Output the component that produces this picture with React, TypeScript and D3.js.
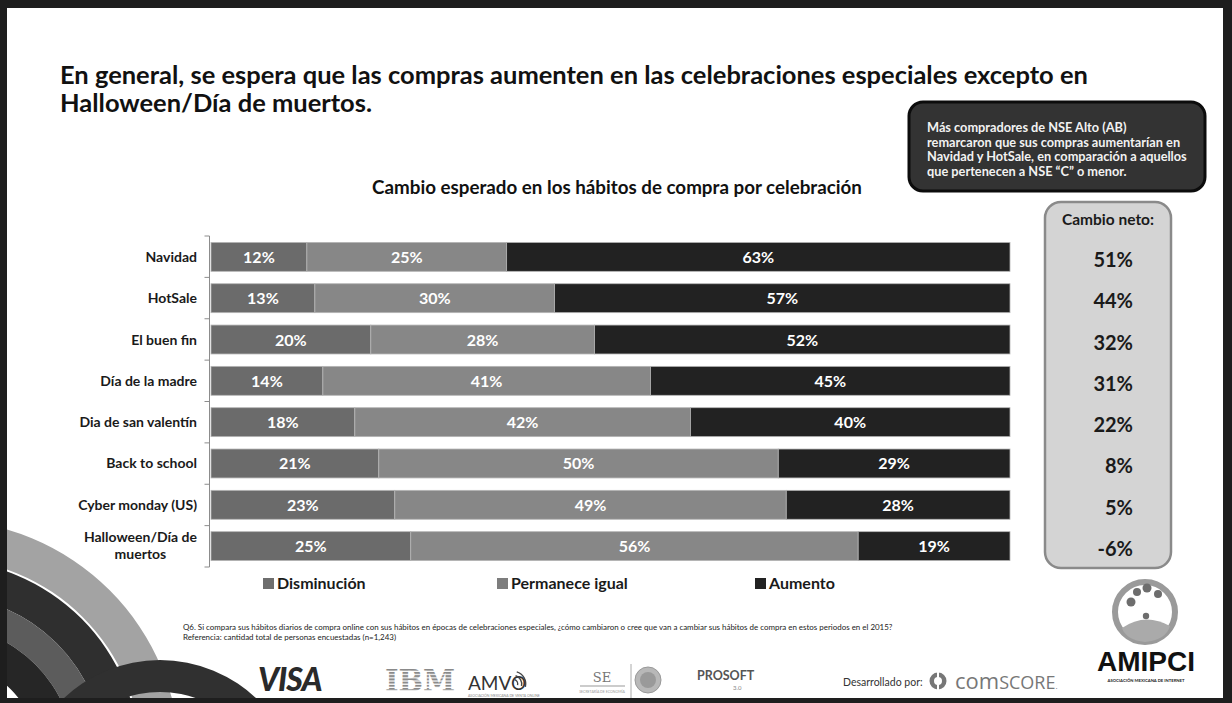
import React, { useEffect, useRef } from "react";
import * as d3 from "d3";

const categories = [
  "Navidad",
  "HotSale",
  "El buen fin",
  "Día de la madre",
  "Dia de san valentín",
  "Back to school",
  "Cyber monday (US)",
  "Halloween/Día de muertos",
];
const disminucion = [12, 13, 20, 14, 18, 21, 23, 25];
const permanece = [25, 30, 28, 41, 42, 50, 49, 56];
const aumento = [63, 57, 52, 45, 40, 29, 28, 19];
const cambioNeto = [51, 44, 32, 31, 22, 8, 5, -6];
const seriesNames = ["Disminución", "Permanece igual", "Aumento"];
const seriesColors = ["#6b6b6b", "#878787", "#222222"];
const legendColors = ["#6e6e6e", "#7d7d7d", "#222222"];

const titleLines = [
  "En general, se espera que las compras aumenten en las celebraciones especiales excepto en",
  "Halloween/Día de muertos.",
];
const chartTitle = "Cambio esperado en los hábitos de compra por celebración";
const calloutLines = [
  "Más compradores  de NSE Alto (AB)",
  "remarcaron que sus compras aumentarían en",
  "Navidad y HotSale, en comparación a aquellos",
  "que pertenecen a NSE “C” o menor.",
];
const netTitle = "Cambio neto:";
const footnoteLines = [
  "Q6. Si compara sus hábitos diarios de compra online con sus hábitos en épocas de celebraciones especiales, ¿cómo cambiaron o cree que van a cambiar sus hábitos de compra en estos periodos en el 2015?",
  "Referencia: cantidad total de personas encuestadas (n=1,243)",
];

const FONT = "Lato, 'Open Sans', 'DejaVu Sans', sans-serif";

export default function App() {
  const ref = useRef<SVGSVGElement>(null);

  useEffect(() => {
    document.body.style.margin = "0";
    document.body.style.overflow = "hidden";
    const W = 1232;
    const H = 703;
    const svg = d3.select(ref.current);
    svg.selectAll("*").remove();
    const defs = svg.append("defs");

    const fit = (sel: any, target: number) => {
      const node = sel.node() as SVGTextElement;
      const w = node.getComputedTextLength();
      const fs = parseFloat(sel.attr("font-size"));
      const nfs = w > 0 ? (fs * target) / w : fs;
      sel.attr("font-size", nfs);
      return nfs;
    };

    // frame
    svg.append("rect").attr("width", W).attr("height", H).attr("fill", "#1e1e1e");
    svg
      .append("rect")
      .attr("x", 7)
      .attr("y", 8)
      .attr("width", 1216)
      .attr("height", 690)
      .attr("fill", "#ffffff");
    defs
      .append("clipPath")
      .attr("id", "frameClip")
      .append("rect")
      .attr("x", 7)
      .attr("y", 8)
      .attr("width", 1216)
      .attr("height", 690);

    // decorative ribbons bottom-left
    const deco = svg.append("g").attr("clip-path", "url(#frameClip)");
    const ring = (cx: number, cy: number, r0: number, r1: number, fill: string) =>
      deco
        .append("path")
        .attr("transform", `translate(${cx},${cy})`)
        .attr(
          "d",
          d3.arc()({ innerRadius: r0, outerRadius: r1, startAngle: 0, endAngle: 2 * Math.PI } as any) as string
        )
        .attr("fill", fill);
    ring(-60, 760, 202, 240, "#a3a3a3");
    ring(-60, 760, 165, 200, "#2f2f2f");
    ring(-60, 760, 135, 165, "#5c5c5c");
    ring(-60, 760, 100, 135, "#262626");
    ring(160, 800, 108, 140, "#303030");

    // title
    const title = svg
      .append("text")
      .attr("font-family", FONT)
      .attr("font-weight", 700)
      .attr("fill", "#111");
    const t1 = title
      .append("tspan")
      .attr("x", 60)
      .attr("y", 84)
      .attr("font-size", 24)
      .text(titleLines[0]);
    const fsTitle = fit(t1, 1028);
    title
      .append("tspan")
      .attr("x", 60)
      .attr("y", 112)
      .attr("font-size", fsTitle)
      .text(titleLines[1]);

    // callout box
    svg
      .append("rect")
      .attr("x", 909)
      .attr("y", 102)
      .attr("width", 296)
      .attr("height", 89)
      .attr("rx", 14)
      .attr("fill", "#333333")
      .attr("stroke", "#0c0c0c")
      .attr("stroke-width", 3);
    const calloutTexts = calloutLines.map((l, i) =>
      svg
        .append("text")
        .attr("x", 927)
        .attr("y", 132 + i * 14.5)
        .attr("font-family", FONT)
        .attr("font-weight", 700)
        .attr("font-size", 11)
        .attr("fill", "#f2f2f2")
        .text(l)
    );
    const fsCallout = fit(calloutTexts[2], 260);
    calloutTexts.forEach((t) => t.attr("font-size", fsCallout));

    // chart title
    const st = svg
      .append("text")
      .attr("x", 617)
      .attr("y", 194)
      .attr("text-anchor", "middle")
      .attr("font-family", FONT)
      .attr("font-weight", 700)
      .attr("font-size", 16)
      .attr("fill", "#111")
      .text(chartTitle);
    fit(st, 490);

    // scales
    const x = d3.scaleLinear().domain([0, 100]).range([211, 1010]);
    const y = d3
      .scaleBand<string>()
      .domain(categories)
      .range([236, 567])
      .paddingInner(0.3)
      .paddingOuter(0.155);
    const bw = y.bandwidth();

    // category axis line + ticks
    const axisX = 209.5;
    svg
      .append("line")
      .attr("x1", axisX)
      .attr("x2", axisX)
      .attr("y1", 236)
      .attr("y2", 567)
      .attr("stroke", "#8c8c8c")
      .attr("stroke-width", 1);
    const step = (567 - 236) / categories.length;
    d3.range(categories.length + 1).forEach((i) => {
      svg
        .append("line")
        .attr("x1", axisX - 5)
        .attr("x2", axisX)
        .attr("y1", 236 + i * step)
        .attr("y2", 236 + i * step)
        .attr("stroke", "#8c8c8c");
    });

    // stacked bars
    const rows = categories.map((c, i) => ({
      c,
      vals: [disminucion[i], permanece[i], aumento[i]],
    }));
    const gBars = svg.append("g");
    rows.forEach((r) => {
      let acc = 0;
      r.vals.forEach((v, k) => {
        const x0 = x(acc);
        const x1 = x(acc + v);
        gBars
          .append("rect")
          .attr("x", x0)
          .attr("y", y(r.c)!)
          .attr("width", x1 - x0)
          .attr("height", bw)
          .attr("fill", seriesColors[k])
          .attr("stroke", "#b5b5b5")
          .attr("stroke-width", 0.8);
        gBars
          .append("text")
          .attr("x", (x0 + x1) / 2)
          .attr("y", y(r.c)! + bw / 2 + 6)
          .attr("text-anchor", "middle")
          .attr("font-family", FONT)
          .attr("font-weight", 700)
          .attr("font-size", 16)
          .attr("fill", "#ffffff")
          .text(`${v}%`);
        acc += v;
      });
    });

    // category labels (wrapped to width)
    const labelRight = 197;
    const maxW = 135;
    rows.forEach((r) => {
      const cy = y(r.c)! + bw / 2;
      const t = svg
        .append("text")
        .attr("font-family", FONT)
        .attr("font-weight", 700)
        .attr("font-size", 14)
        .attr("fill", "#1a1a1a")
        .attr("x", labelRight)
        .attr("y", cy + 5)
        .attr("text-anchor", "end")
        .text(r.c);
      const w = (t.node() as SVGTextElement).getComputedTextLength();
      if (w > maxW) {
        const words = r.c.split(" ");
        const lines: string[] = [];
        let cur = "";
        t.text("");
        words.forEach((wd) => {
          const test = cur ? cur + " " + wd : wd;
          t.text(test);
          if ((t.node() as SVGTextElement).getComputedTextLength() > maxW && cur) {
            lines.push(cur);
            cur = wd;
          } else cur = test;
        });
        lines.push(cur);
        t.text(lines[0]);
        const firstW = (t.node() as SVGTextElement).getComputedTextLength();
        t.text("");
        const mid = labelRight - firstW / 2;
        t.attr("text-anchor", "middle");
        lines.forEach((ln, j) => {
          t.append("tspan")
            .attr("x", mid)
            .attr("y", cy + 5 + (j - (lines.length - 1) / 2) * 17 - 1)
            .text(ln);
        });
      }
    });

    // legend
    const legendX = [263, 497, 755];
    seriesNames.forEach((n, k) => {
      svg
        .append("rect")
        .attr("x", legendX[k])
        .attr("y", 578)
        .attr("width", 11)
        .attr("height", 11)
        .attr("fill", legendColors[k]);
      svg
        .append("text")
        .attr("x", legendX[k] + 14)
        .attr("y", 589)
        .attr("font-family", FONT)
        .attr("font-weight", 700)
        .attr("font-size", 16)
        .attr("fill", "#1a1a1a")
        .text(n);
    });

    // net change panel
    svg
      .append("rect")
      .attr("x", 1045)
      .attr("y", 202)
      .attr("width", 126)
      .attr("height", 366)
      .attr("rx", 16)
      .attr("fill", "#d4d4d4")
      .attr("stroke", "#8a8a8a")
      .attr("stroke-width", 2.5);
    svg
      .append("text")
      .attr("x", 1108)
      .attr("y", 225)
      .attr("text-anchor", "middle")
      .attr("font-family", FONT)
      .attr("font-weight", 700)
      .attr("font-size", 15.5)
      .attr("fill", "#1a1a1a")
      .text(netTitle);
    const fmt = (v: number) => `${v}%`;
    cambioNeto.forEach((v, i) => {
      svg
        .append("text")
        .attr("x", 1133)
        .attr("y", y(categories[i])! + bw / 2 + 10)
        .attr("text-anchor", "end")
        .attr("font-family", FONT)
        .attr("font-weight", 700)
        .attr("font-size", 20)
        .attr("fill", "#1a1a1a")
        .text(fmt(v));
    });

    // footnote
    const footTexts = footnoteLines.map((l, i) =>
      svg
        .append("text")
        .attr("x", 183)
        .attr("y", 630 + i * 9.5)
        .attr("font-family", FONT)
        .attr("font-size", 7.5)
        .attr("fill", "#222")
        .text(l)
    );
    const fsFoot = fit(footTexts[0], 711);
    footTexts.forEach((t) => t.attr("font-size", fsFoot));

    // logos row
    const logos = svg.append("g").attr("font-family", FONT);
    logos
      .append("text")
      .attr("x", 258)
      .attr("y", 691)
      .attr("font-size", 32)
      .attr("font-weight", 900)
      .attr("font-style", "italic")
      .attr("fill", "#2a2a2a")
      .attr("letter-spacing", -1)
      .text("VISA");
    const pat = defs
      .append("pattern")
      .attr("id", "ibmStripes")
      .attr("patternUnits", "userSpaceOnUse")
      .attr("width", 4)
      .attr("height", 3.2);
    pat.append("rect").attr("width", 4).attr("height", 2).attr("fill", "#8a8a8a");
    logos
      .append("text")
      .attr("x", 385)
      .attr("y", 691)
      .attr("font-family", "'DejaVu Serif', serif")
      .attr("font-size", 29)
      .attr("font-weight", 700)
      .attr("fill", "url(#ibmStripes)")
      .text("IBM");
    logos
      .append("text")
      .attr("x", 468)
      .attr("y", 690)
      .attr("font-size", 19)
      .attr("fill", "#333")
      .text("AMVO");
    [4, 8, 12].forEach((r) => {
      logos
        .append("path")
        .attr("transform", "translate(513,684)")
        .attr(
          "d",
          d3.arc()({ innerRadius: r, outerRadius: r + 1.4, startAngle: 0.3, endAngle: 1.8 } as any) as string
        )
        .attr("fill", "#444");
    });
    logos
      .append("text")
      .attr("x", 468)
      .attr("y", 697)
      .attr("font-size", 3.5)
      .attr("fill", "#888")
      .text("ASOCIACIÓN MEXICANA DE VENTA ONLINE");
    logos
      .append("text")
      .attr("x", 602)
      .attr("y", 682)
      .attr("text-anchor", "middle")
      .attr("font-family", "'DejaVu Serif', serif")
      .attr("font-size", 13)
      .attr("fill", "#777")
      .text("SE");
    logos
      .append("line")
      .attr("x1", 580)
      .attr("x2", 625)
      .attr("y1", 686)
      .attr("y2", 686)
      .attr("stroke", "#999")
      .attr("stroke-width", 1);
    logos
      .append("text")
      .attr("x", 602)
      .attr("y", 693)
      .attr("text-anchor", "middle")
      .attr("font-size", 3.5)
      .attr("fill", "#999")
      .text("SECRETARÍA DE ECONOMÍA");
    logos
      .append("line")
      .attr("x1", 631)
      .attr("x2", 631)
      .attr("y1", 664)
      .attr("y2", 698)
      .attr("stroke", "#aaa");
    logos
      .append("circle")
      .attr("cx", 648)
      .attr("cy", 680)
      .attr("r", 13)
      .attr("fill", "#b8b8b8")
      .attr("stroke", "#999");
    logos
      .append("circle")
      .attr("cx", 648)
      .attr("cy", 680)
      .attr("r", 8)
      .attr("fill", "#9a9a9a");
    logos
      .append("text")
      .attr("x", 697)
      .attr("y", 680)
      .attr("font-size", 12.5)
      .attr("font-weight", 700)
      .attr("fill", "#555")
      .text("PROSOFT");
    logos
      .append("text")
      .attr("x", 733)
      .attr("y", 690)
      .attr("font-size", 6)
      .attr("fill", "#888")
      .text("3.0");
    logos
      .append("text")
      .attr("x", 843)
      .attr("y", 686)
      .attr("font-size", 10.5)
      .attr("fill", "#333")
      .text("Desarrollado por:");
    logos
      .append("path")
      .attr("transform", "translate(938,681)")
      .attr(
        "d",
        d3.arc()({ innerRadius: 4, outerRadius: 8.5, startAngle: 0, endAngle: 2 * Math.PI } as any) as string
      )
      .attr("fill", "#777");
    logos
      .append("rect")
      .attr("x", 937)
      .attr("y", 671)
      .attr("width", 2)
      .attr("height", 20)
      .attr("fill", "#fff");
    const cs = logos
      .append("text")
      .attr("x", 955)
      .attr("y", 689)
      .attr("font-family", "'Open Sans', sans-serif")
      .attr("font-size", 22)
      .attr("fill", "#777");
    cs.append("tspan").text("com");
    cs.append("tspan").attr("font-size", 18).text("SCORE");
    cs.append("tspan").attr("font-size", 8).text(".");

    // AMIPCI logo
    const am = svg.append("g");
    am.append("circle")
      .attr("cx", 1145)
      .attr("cy", 612)
      .attr("r", 30)
      .attr("fill", "none")
      .attr("stroke", "#9a9a9a")
      .attr("stroke-width", 6);
    am.append("path")
      .attr("d", "M1122,628 Q1145,612 1170,626 Q1166,640 1145,642 Q1126,640 1122,628 Z")
      .attr("fill", "#aaa");
    [
      [1131, 602, 4.5],
      [1137, 592, 4],
      [1147, 588, 4.5],
      [1158, 594, 4],
      [1146, 616, 3.2],
    ].forEach(([cx, cy, r]) =>
      am.append("circle").attr("cx", cx).attr("cy", cy).attr("r", r).attr("fill", "#6d6d6d")
    );
    const at = am
      .append("text")
      .attr("x", 1146)
      .attr("y", 671)
      .attr("text-anchor", "middle")
      .attr("font-family", "'Liberation Sans', Arial, sans-serif")
      .attr("font-weight", 900)
      .attr("font-size", 28)
      .attr("fill", "#111")
      .text("AMIPCI");
    fit(at, 98);
    am.append("text")
      .attr("x", 1146)
      .attr("y", 682)
      .attr("text-anchor", "middle")
      .attr("font-family", FONT)
      .attr("font-weight", 700)
      .attr("font-size", 4.2)
      .attr("fill", "#222")
      .text("ASOCIACIÓN MEXICANA DE INTERNET");
  }, []);

  return (
    <svg
      ref={ref}
      width={1232}
      height={703}
      style={{ position: "absolute", left: 0, top: 0, display: "block" }}
    />
  );
}
